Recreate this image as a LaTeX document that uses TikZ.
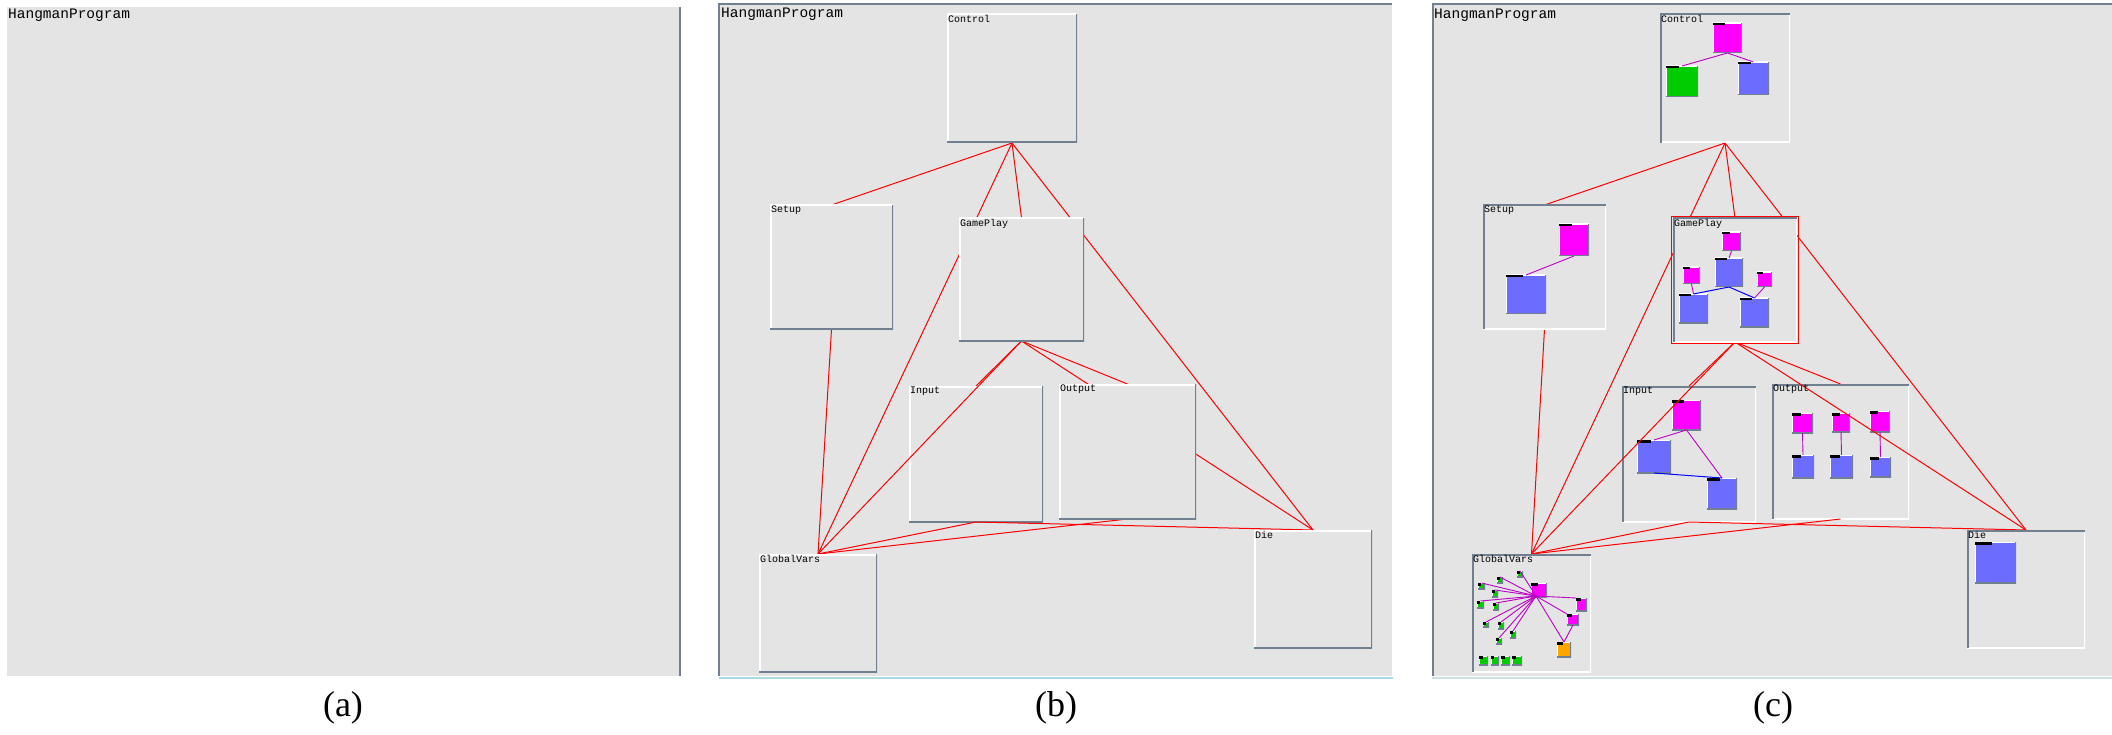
\documentclass[tikz,border=0pt]{standalone}
\usepackage{fontspec}
\setmainfont{Liberation Serif}
\setmonofont{Liberation Mono}
\usepackage{tikz}
\usetikzlibrary{fit,calc}

\definecolor{panelgray}{RGB}{228,228,228}
\definecolor{slate}{RGB}{112,128,144}
\definecolor{capline}{RGB}{173,216,230}
\definecolor{capline2}{RGB}{205,222,228}
\definecolor{fnmag}{RGB}{255,0,255}
\definecolor{fnblue}{RGB}{108,108,255}
\definecolor{fngreen}{RGB}{0,204,0}
\definecolor{fnorange}{RGB}{255,165,0}
\definecolor{calllink}{RGB}{190,0,200}
\definecolor{deplink}{RGB}{255,0,0}

\pgfdeclarelayer{back}
\pgfdeclarelayer{wires}
\pgfsetlayers{back,wires,main}

\tikzset{
  modbox/.style={fill=panelgray, inner sep=0pt, outer sep=0pt},
  raised/.style={modbox, path picture={
      \draw[white, line width=3pt] (path picture bounding box.south west) -- (path picture bounding box.north west) -- (path picture bounding box.north east);
      \draw[slate, line width=3pt] (path picture bounding box.south west) -- (path picture bounding box.south east) -- (path picture bounding box.north east);}},
  sunken/.style={modbox, path picture={
      \draw[white, line width=3pt] (path picture bounding box.south west) -- (path picture bounding box.south east) -- (path picture bounding box.north east);
      \draw[slate, line width=3pt] (path picture bounding box.south west) -- (path picture bounding box.north west) -- (path picture bounding box.north east);}},
  fn/.style={inner sep=0pt, outer sep=0pt, path picture={
      \draw[white, line width=2pt] (path picture bounding box.south west) -- (path picture bounding box.north west) -- (path picture bounding box.north east);
      \draw[slate, line width=2pt] (path picture bounding box.south west) -- (path picture bounding box.south east) -- (path picture bounding box.north east);
      \fill[black] (path picture bounding box.north west) rectangle ($(path picture bounding box.north west)!0.42!(path picture bounding box.north east)+(0pt,-2.5pt)$);}},
  modlabel/.style={anchor=north west, inner sep=1pt, font=\ttfamily\fontsize{10}{10}\selectfont},
  progtitle/.style={anchor=north west, inner sep=0pt, font=\ttfamily\fontsize{14.5}{15}\selectfont},
  subcap/.style={inner sep=0pt, font=\fontsize{36}{36}\selectfont},
  dep/.style={deplink, line width=1pt},
  call/.style={calllink, line width=0.9pt},
  flow/.style={blue, line width=1pt}
}

\begin{document}
\begin{tikzpicture}[x=1pt, y=-1pt]
  \useasboundingbox (0,0) rectangle (2112,735);

  % Panel (a): empty program
  \begin{pgfonlayer}{back}
    \fill[panelgray] (7,7) rectangle (680,676);
    \draw[slate, line width=2pt] (680,7) -- (680,676);
  \end{pgfonlayer}
  \node[progtitle] (aTitle) at (8,9) {HangmanProgram};
  \node[subcap] (aCap) at (343,708) {(a)};

  % Panel (b): modules only
  \begin{pgfonlayer}{back}
    \fill[panelgray] (719,4) rectangle (1392,676);
    \draw[slate, line width=2pt] (1392,4) -- (719,4) -- (719,676);
    \draw[capline, line width=1.2pt] (719,678) -- (1393,678);
    \node[raised, fit={(909,386) (1043,522)}] (bInput) {};
  \end{pgfonlayer}
  \node[progtitle] (bTitle) at (721,8) {HangmanProgram};
  \node[subcap] (bCap) at (1056,708) {(b)};

  \node[raised, fit={(947,14) (1077,143)}] (bControl) {};
  \node[raised, fit={(770,205) (893,329)}] (bSetup) {};
  \node[raised, fit={(959,218) (1084,341)}] (bGame) {};
  \node[raised, fit={(1059,384) (1196,519)}] (bOutput) {};
  \node[raised, fit={(759,554) (877,672)}] (bGlobal) {};
  \node[raised, fit={(1254,530) (1372,648)}] (bDie) {};

  \node[modlabel] (bControlT) at (bControl.north west) {Control};
  \node[modlabel] (bSetupT) at (bSetup.north west) {Setup};
  \node[modlabel] (bGameT) at (bGame.north west) {GamePlay};
  \node[modlabel] (bInputT) at (bInput.north west) {Input};
  \node[modlabel] (bOutputT) at (bOutput.north west) {Output};
  \node[modlabel] (bGlobalT) at (bGlobal.north west) {GlobalVars};
  \node[modlabel] (bDieT) at (bDie.north west) {Die};

  % Panel (c): modules with their functions
  \begin{pgfonlayer}{back}
    \fill[panelgray] (1432,4) rectangle (2112,676);
    \draw[slate, line width=2pt] (2112,4) -- (1433,4) -- (1433,676);
    \draw[capline2, line width=1.2pt] (1432,678) -- (2112,678);

    % Input
    \node[sunken, fit={(1622,386) (1756,522)}] (cInput) {};
    \node[fn, fill=fnmag, fit={(1672,400) (1701,430)}] (cInMain) {};
    \node[fn, fill=fnblue, fit={(1637,440) (1671,473)}] (cInRead) {};
    \node[fn, fill=fnblue, fit={(1707,478) (1737,509)}] (cInCheck) {};
    \draw[call] (cInMain.south) -- (cInRead.north);
    \draw[call] (cInMain.south) -- (cInCheck.north);
    \draw[flow] (cInRead.south) -- (cInCheck.north);

    % Output
    \node[sunken, fit={(1772,384) (1909,519)}] (cOutput) {};
    \node[fn, fill=fnmag, fit={(1792,413) (1813,433)}] (cOutM1) {};
    \node[fn, fill=fnmag, fit={(1832,413) (1850,432)}] (cOutM2) {};
    \node[fn, fill=fnmag, fit={(1870,411) (1890,432)}] (cOutM3) {};
    \node[fn, fill=fnblue, fit={(1792,455) (1814,478)}] (cOutB1) {};
    \node[fn, fill=fnblue, fit={(1830,455) (1853,478)}] (cOutB2) {};
    \node[fn, fill=fnblue, fit={(1870,457) (1891,477)}] (cOutB3) {};
    \draw[call] (cOutM1.south) -- (cOutB1.north);
    \draw[call] (cOutM2.south) -- (cOutB2.north);
    \draw[call] (cOutM3.south) -- (cOutB3.north);
  \end{pgfonlayer}
  \node[progtitle] (cTitle) at (1434,9) {HangmanProgram};
  \node[subcap] (cCap) at (1773,708) {(c)};

  % Control
  \node[sunken, fit={(1660,14) (1790,143)}] (cControl) {};
  \node[fn, fill=fnmag, fit={(1713,23) (1742,53)}] (cCtlMain) {};
  \node[fn, fill=fngreen, fit={(1666,66) (1698,97)}] (cCtlInit) {};
  \node[fn, fill=fnblue, fit={(1738,62) (1769,95)}] (cCtlLoop) {};
  \draw[call] (cCtlMain.south) -- (cCtlInit.north);
  \draw[call] (cCtlMain.south) -- (cCtlLoop.north);

  % Setup
  \node[sunken, fit={(1483,205) (1606,329)}] (cSetup) {};
  \node[fn, fill=fnmag, fit={(1559,224) (1589,256)}] (cSetMain) {};
  \node[fn, fill=fnblue, fit={(1506,275) (1546,314)}] (cSetWord) {};
  \draw[call] (cSetMain.south) -- (cSetWord.north);

  % GamePlay (selected)
  \node[sunken, fit={(1673,218) (1797,342)}] (cGame) {};
  \draw[deplink, line width=1.5pt] ([shift={(-1.5pt,1.5pt)}]cGame.north west) rectangle ([shift={(1.5pt,-1.5pt)}]cGame.south east);
  \node[fn, fill=fnmag, fit={(1722,232) (1741,251)}] (cGpTop) {};
  \node[fn, fill=fnblue, fit={(1715,258) (1743,287)}] (cGpMid) {};
  \node[fn, fill=fnmag, fit={(1683,267) (1700,284)}] (cGpLeftM) {};
  \node[fn, fill=fnmag, fit={(1757,272) (1772,287)}] (cGpRightM) {};
  \node[fn, fill=fnblue, fit={(1679,294) (1708,323)}] (cGpLeftB) {};
  \node[fn, fill=fnblue, fit={(1740,298) (1769,327)}] (cGpRightB) {};
  \draw[call] (cGpTop.south) -- (cGpMid.north);
  \draw[flow] (cGpMid.south) -- (cGpLeftB.north);
  \draw[flow] (cGpMid.south) -- (cGpRightB.north);
  \draw[call] (cGpLeftM.south) -- (cGpLeftB.north);
  \draw[call] (cGpRightM.south) -- (cGpRightB.north);

  % Die
  \node[sunken, fit={(1967,530) (2085,648)}] (cDie) {};
  \node[fn, fill=fnblue, fit={(1975,542) (2016,583)}] (cDieRoll) {};

  % GlobalVars
  \node[sunken, fit={(1472,554) (1591,672)}] (cGlobal) {};
  \node[fn, fill=fnmag, fit={(1531,583) (1547,597)}] (cGvMain) {};
  \node[fn, fill=fnmag, fit={(1576,598) (1587,611)}] (cGvM2) {};
  \node[fn, fill=fnmag, fit={(1567,614) (1579,625)}] (cGvM3) {};
  \node[fn, fill=fnorange, fit={(1557,642) (1571,657)}] (cGvOr) {};
  \coordinate (cGvHub) at (1536,596);
  \node[fn, fill=fngreen, fit={(1517,571) (1523,577)}] (cGv1) {};
  \node[fn, fill=fngreen, fit={(1497,577) (1503,583)}] (cGv2) {};
  \node[fn, fill=fngreen, fit={(1478,583) (1485,589)}] (cGv3) {};
  \node[fn, fill=fngreen, fit={(1492,590) (1498,597)}] (cGv4) {};
  \node[fn, fill=fngreen, fit={(1477,601) (1484,608)}] (cGv5) {};
  \node[fn, fill=fngreen, fit={(1493,603) (1499,610)}] (cGv6) {};
  \node[fn, fill=fngreen, fit={(1483,622) (1489,627)}] (cGv7) {};
  \node[fn, fill=fngreen, fit={(1498,622) (1504,629)}] (cGv8) {};
  \node[fn, fill=fngreen, fit={(1510,631) (1516,638)}] (cGv9) {};
  \node[fn, fill=fngreen, fit={(1496,638) (1502,644)}] (cGv10) {};
  \node[fn, fill=fngreen, fit={(1479,656) (1488,665)}] (cGv11) {};
  \node[fn, fill=fngreen, fit={(1491,656) (1499,665)}] (cGv12) {};
  \node[fn, fill=fngreen, fit={(1501,656) (1510,665)}] (cGv13) {};
  \node[fn, fill=fngreen, fit={(1512,656) (1522,665)}] (cGv14) {};
  \draw[call] (cGv1.north) -- (cGvHub);
  \draw[call] (cGv2.north) -- (cGvHub);
  \draw[call] (cGv3.north) -- (cGvHub);
  \draw[call] (cGv4.north) -- (cGvHub);
  \draw[call] (cGv5.north) -- (cGvHub);
  \draw[call] (cGv6.north) -- (cGvHub);
  \draw[call] (cGv7.north) -- (cGvHub);
  \draw[call] (cGv8.north) -- (cGvHub);
  \draw[call] (cGv9.north) -- (cGvHub);
  \draw[call] (cGv10.north) -- (cGvHub);
  \draw[call] (cGvHub) -- (cGvM2.north west);
  \draw[call] (cGvHub) -- (cGvM3.north west);
  \draw[call] (cGvHub) -- (cGvOr.north);
  \draw[call] (cGvM3.south) -- (cGvOr.north);

  \node[modlabel] (cControlT) at (cControl.north west) {Control};
  \node[modlabel] (cSetupT) at (cSetup.north west) {Setup};
  \node[modlabel] (cGameT) at (cGame.north west) {GamePlay};
  \node[modlabel] (cInputT) at (cInput.north west) {Input};
  \node[modlabel] (cOutputT) at (cOutput.north west) {Output};
  \node[modlabel] (cGlobalT) at (cGlobal.north west) {GlobalVars};
  \node[modlabel] (cDieT) at (cDie.north west) {Die};

  % Module dependencies
  \begin{pgfonlayer}{wires}
    \draw[dep] (bControl.south) -- (bSetup.north);
    \draw[dep] (bControl.south) -- (bGame.north);
    \draw[dep] (bControl.south) -- (bGlobal.north);
    \draw[dep] (bControl.south) -- (bDie.north);
    \draw[dep] (bSetup.south) -- (bGlobal.north);
    \draw[dep] (bGame.south) -- (bInput.north);
    \draw[dep] (bGame.south) -- (bOutput.north);
    \draw[dep] (bGame.south) -- (bGlobal.north);
    \draw[dep] (bGame.south) -- (bDie.north);
    \draw[dep] (bInput.south) -- (bGlobal.north);
    \draw[dep] (bInput.south) -- (bDie.north);
    \draw[dep] (bOutput.south) -- (bGlobal.north);

    \draw[dep] (cControl.south) -- (cSetup.north);
    \draw[dep] (cControl.south) -- (cGame.north);
    \draw[dep] (cControl.south) -- (cGlobal.north);
    \draw[dep] (cControl.south) -- (cDie.north);
    \draw[dep] (cSetup.south) -- (cGlobal.north);
    \draw[dep] (cGame.south) -- (cInput.north);
    \draw[dep] (cGame.south) -- (cOutput.north);
    \draw[dep] (cGame.south) -- (cGlobal.north);
    \draw[dep] (cGame.south) -- (cDie.north);
    \draw[dep] (cInput.south) -- (cGlobal.north);
    \draw[dep] (cInput.south) -- (cDie.north);
    \draw[dep] (cOutput.south) -- (cGlobal.north);
  \end{pgfonlayer}
\end{tikzpicture}
\end{document}
